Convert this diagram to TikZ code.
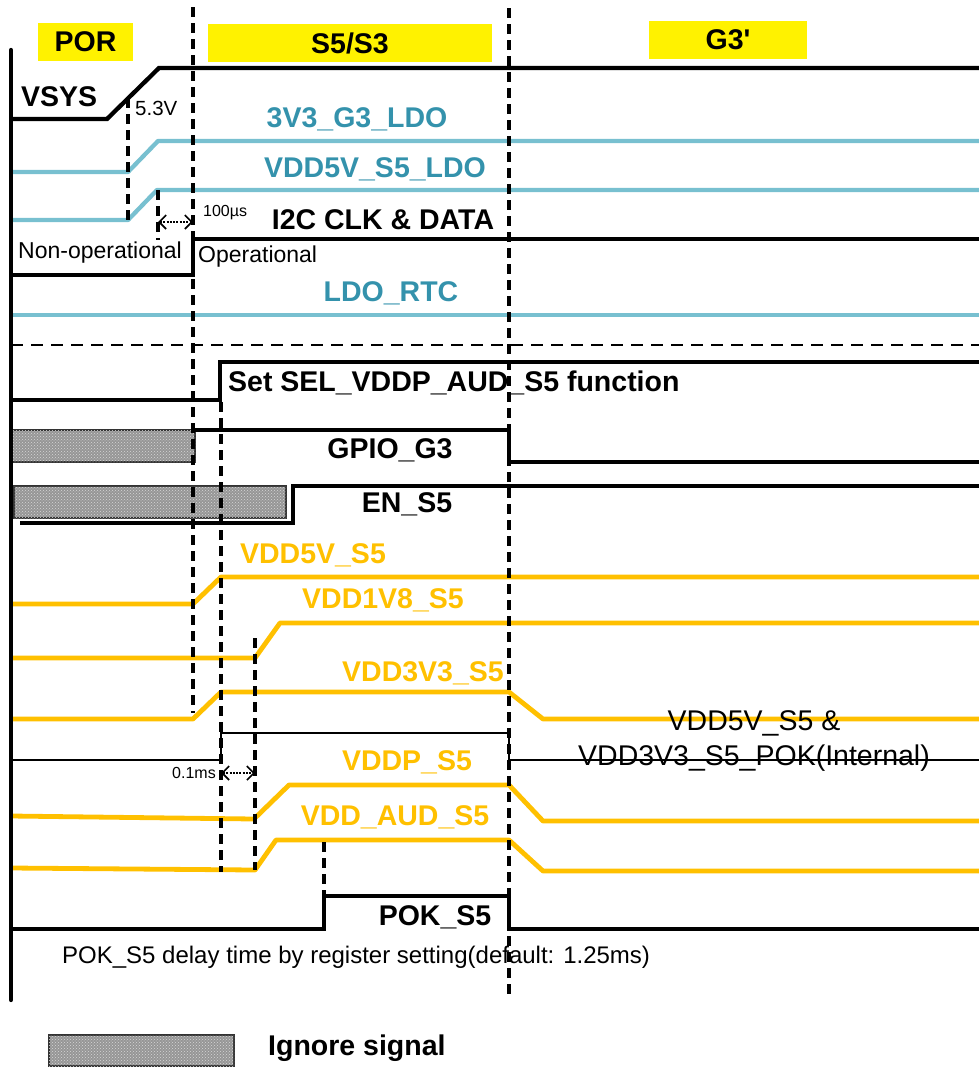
\documentclass[tikz,border=0pt]{standalone}
\usepackage{fontspec}
\setmainfont{Liberation Sans}
\usetikzlibrary{patterns,arrows.meta}
\definecolor{tealline}{RGB}{120,192,208}
\definecolor{tealtext}{RGB}{52,146,172}
\definecolor{orng}{RGB}{255,192,0}
\definecolor{hatchdark}{RGB}{150,150,150}
\definecolor{hatchlight}{RGB}{215,215,215}
\newcommand\lblfont{\fontsize{28.5}{30}\selectfont\bfseries}
\newcommand\regfont{\fontsize{23}{25}\selectfont}
\tikzset{
  blk/.style={line width=4.3pt, draw=black, line join=miter},
  tl/.style={line width=4.3pt, draw=tealline, line join=round},
  orl/.style={line width=4.8pt, draw=orng, line join=round},
  thinl/.style={line width=1.4pt, draw=black},
  dsh/.style={line width=3.3pt, draw=black, dash pattern=on 10pt off 6pt},
  hdsh/.style={line width=2.8pt, draw=black, dash pattern=on 12pt off 8pt},
  lbl/.style={font=\lblfont, inner sep=0pt},
  tlbl/.style={font=\lblfont, inner sep=0pt, text=tealtext},
  olbl/.style={font=\lblfont, inner sep=0pt, text=orng},
  reglbl/.style={font=\regfont, inner sep=0pt},
  title/.style={fill=yellow, font=\lblfont, inner sep=0pt, minimum height=38pt},
  hatchbox/.style={fill=hatchdark, postaction={pattern=crosshatch dots, pattern color=hatchlight}, draw=black!80, line width=1.3pt},
  dimarrow/.style={line width=2.4pt, dash pattern=on 2pt off 1.3pt, {Straight Barb[length=7pt,width=14pt,line width=1.6pt]}-{Straight Barb[length=7pt,width=14pt,line width=1.6pt]}}
}
\begin{document}
\begin{tikzpicture}[x=1pt,y=-1pt]
\useasboundingbox (0,0) rectangle (979,1068);

% title boxes
\node[title, minimum width=95pt] (por) at (85.5,42) {POR};
\node[title, minimum width=284pt] (s5s3) at (350,43) {S5/S3};
\node[title, minimum width=158pt] (g3p) at (728,40) {G3\textquotesingle};

% hatched (ignore) boxes
\path[hatchbox] (12,430) rectangle (195,462);
\path[hatchbox] (14,486) rectangle (286,518);
\path[hatchbox] (49,1035) rectangle (234,1066);

% upper signals
\draw[blk] (11,119) -- (107,119) -- (159,68) -- (979,68);
\draw[tl] (11,172) -- (128,172) -- (158,141) -- (979,141);
\draw[tl] (11,220) -- (128,220) -- (157,190) -- (979,190);
\draw[blk] (11,275) -- (193,275) -- (193,239) -- (979,239);
\draw[tl] (11,315) -- (979,315);

% lower signals
\draw[blk] (11,400) -- (220,400) -- (220,362) -- (979,362);
\draw[blk] (195,430) -- (509,430) -- (509,462) -- (979,462);
\draw[blk] (20,523) -- (293,523) -- (293,486) -- (979,486);
\draw[orl] (11,604) -- (193,604) -- (221,577) -- (979,577);
\draw[orl] (11,658) -- (255,658) -- (280,623) -- (979,623);
\draw[orl] (11,719) -- (193,719) -- (221,692) -- (509,692) -- (543,719) -- (979,719);
\draw[thinl] (11,760) -- (221,760) -- (221,733) -- (509,733) -- (509,760) -- (979,760);
\draw[orl] (11,816) -- (254,819) -- (289,785) -- (509,785) -- (543,821) -- (979,821);
\draw[orl] (11,868) -- (255,870) -- (276,840) -- (509,840) -- (543,871) -- (979,871);
\draw[blk] (11,929) -- (324,929) -- (324,896) -- (509,896) -- (509,929) -- (979,929);

% left axis
\draw[blk, line cap=round] (11,50) -- (11,1000);

% labels
\node[lbl, anchor=west] (vsys) at (21,97) {VSYS};
\node[reglbl, font=\fontsize{20.5}{22}\selectfont, anchor=west] (v53) at (135,108) {5.3V};
\node[tlbl] (l3v3) at (357,119) {3V3\_G3\_LDO};
\node[tlbl] (l5v) at (375,169) {VDD5V\_S5\_LDO};
\node[reglbl, font=\fontsize{16}{18}\selectfont, anchor=west] (us100) at (203,213) {100µs};
\node[lbl] (i2c) at (383,220) {I2C CLK \& DATA};
\node[reglbl, anchor=west] (nonop) at (18,253) {Non-operational};
\node[reglbl, anchor=west] (oper) at (198,257) {Operational};
\node[tlbl] (rtc) at (391,293) {LDO\_RTC};
\node[lbl, anchor=west] (sel) at (228,383) {Set SEL\_VDDP\_AUD\_S5 function};
\node[lbl] (gpio) at (390,450) {GPIO\_G3};
\node[lbl] (ens5) at (407,504) {EN\_S5};
\node[olbl] (v5s5) at (313,555) {VDD5V\_S5};
\node[olbl] (v18) at (383,600) {VDD1V8\_S5};
\node[olbl] (v33) at (423,673) {VDD3V3\_S5};
\node[reglbl, font=\fontsize{28.5}{30}\selectfont] (pok1) at (754,723) {VDD5V\_S5 \&};
\node[reglbl, font=\fontsize{28.5}{30}\selectfont] (pok2) at (754,758) {VDD3V3\_S5\_POK(Internal)};
\node[reglbl, font=\fontsize{16}{18}\selectfont, anchor=east] (ms01) at (216,773) {0.1ms};
\node[olbl] (vddp) at (407,762) {VDDP\_S5};
\node[olbl] (vaud) at (395,817) {VDD\_AUD\_S5};
\node[lbl] (pok) at (435,917) {POK\_S5};
\node[reglbl, font=\fontsize{24}{26}\selectfont, anchor=west] (note) at (62,957) {POK\_S5 delay time by register setting(default: 1.25ms)};
\node[lbl, anchor=west] (ign) at (268,1048) {Ignore signal};

% dashed timing markers
\draw[dsh] (193,7) -- (193,713);
\draw[dsh] (509,8) -- (509,1000);
\draw[dsh] (128,98) -- (128,220);
\draw[dsh] (158,190) -- (158,240);
\draw[dsh] (221,402) -- (221,872);
\draw[dsh] (255,638) -- (255,870);
\draw[dsh] (324,842) -- (324,896);
\draw[hdsh] (11,345) -- (979,345);

% dimension arrows
\coordinate (a1) at (158,222);
\coordinate (a2) at (193,222);
\coordinate (b1) at (221,773);
\coordinate (b2) at (255,773);
\draw[dimarrow] (a1) -- (a2);
\draw[dimarrow] (b1) -- (b2);
\end{tikzpicture}
\end{document}
